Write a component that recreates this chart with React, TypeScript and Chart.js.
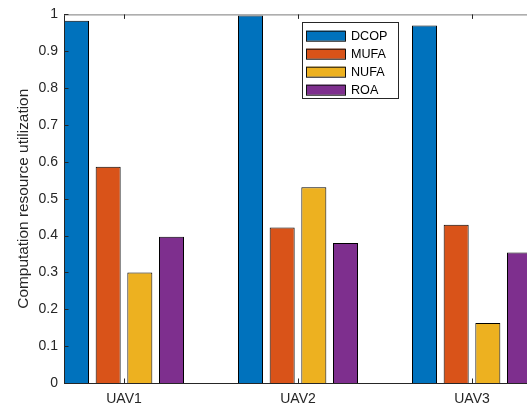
import React, { useEffect, useRef } from 'react';
import { Chart, registerables } from 'chart.js';

Chart.register(...registerables);

const categories = ['UAV1', 'UAV2', 'UAV3'];
const seriesNames = ['DCOP', 'MUFA', 'NUFA', 'ROA'];
const dcopValues = [0.983, 0.997, 0.97];
const mufaValues = [0.587, 0.422, 0.429];
const nufaValues = [0.3, 0.531, 0.163];
const roaValues = [0.397, 0.38, 0.354];
const seriesColors = ['#0072BD', '#D95319', '#EDB120', '#7E2F8E'];
const yTickValues = [0, 0.1, 0.2, 0.3, 0.4, 0.5, 0.6, 0.7, 0.8, 0.9, 1];
const yAxisTitle = 'Computation resource utilization';

const FONT = '"Liberation Sans", Arial, Helvetica, sans-serif';
const AXIS_COLOR = '#262626';

const axesPlugin = {
  id: 'matlabAxes',
  afterDatasetsDraw(chart: any) {
    const { ctx, chartArea: a, scales } = chart;
    const x = scales.x;
    const y = scales.y;
    ctx.save();
    ctx.lineWidth = 1;
    ctx.strokeStyle = AXIS_COLOR;
    ctx.beginPath();
    ctx.moveTo(a.left + 0.5, a.top);
    ctx.lineTo(a.left + 0.5, a.bottom + 0.5);
    ctx.lineTo(a.right + 0.5, a.bottom + 0.5);
    ctx.moveTo(a.right + 0.5, a.top);
    ctx.lineTo(a.right + 0.5, a.bottom + 0.5);
    ctx.stroke();
    ctx.strokeStyle = '#7a7a7a';
    ctx.beginPath();
    ctx.moveTo(a.left, a.top + 0.5);
    ctx.lineTo(a.right + 0.5, a.top + 0.5);
    ctx.stroke();
    ctx.strokeStyle = AXIS_COLOR;
    ctx.beginPath();
    const tl = 4.5;
    yTickValues.forEach((v) => {
      const py = Math.round(y.getPixelForValue(v)) + 0.5;
      ctx.moveTo(a.left, py);
      ctx.lineTo(a.left + tl, py);
      ctx.moveTo(a.right, py);
      ctx.lineTo(a.right - tl, py);
    });
    categories.forEach((_, i) => {
      const px = Math.round(x.getPixelForValue(i + 1)) + 0.5;
      ctx.moveTo(px, a.bottom);
      ctx.lineTo(px, a.bottom - tl);
      ctx.moveTo(px, a.top);
      ctx.lineTo(px, a.top + tl);
    });
    ctx.stroke();
    ctx.restore();
  },
  afterDraw(chart: any) {
    const { ctx } = chart;
    const box = { x: 302, y: 22, w: 96, h: 76 };
    ctx.save();
    ctx.fillStyle = '#ffffff';
    ctx.fillRect(box.x, box.y, box.w, box.h);
    ctx.strokeStyle = AXIS_COLOR;
    ctx.lineWidth = 1;
    ctx.strokeRect(box.x + 0.5, box.y + 0.5, box.w, box.h);
    ctx.font = `12.6px ${FONT}`;
    ctx.textBaseline = 'middle';
    ctx.textAlign = 'left';
    chart.data.datasets.forEach((ds: any, i: number) => {
      const cy = box.y + 13.7 + i * 18;
      ctx.fillStyle = ds.backgroundColor;
      ctx.fillRect(box.x + 4, cy - 5, 39, 10);
      ctx.strokeStyle = '#111';
      ctx.strokeRect(box.x + 4.5, cy - 4.5, 39, 10);
      ctx.fillStyle = '#000';
      ctx.fillText(ds.label, box.x + 49, cy + 0.5);
    });
    ctx.restore();
  },
};

export default function App() {
  const ref = useRef<HTMLCanvasElement | null>(null);

  useEffect(() => {
    if (!ref.current) return;
    const seriesValues = [dcopValues, mufaValues, nufaValues, roaValues];
    const datasets = seriesNames.map((name, s) => ({
      label: name,
      data: categories.map((_, i) => ({ x: i + 1, y: seriesValues[s][i] })),
      backgroundColor: seriesColors[s],
      borderColor: '#000',
      borderWidth: 1,
      borderSkipped: 'start',
      categoryPercentage: 0.728,
      barPercentage: 0.79,
    }));
    const chart = new Chart(ref.current, {
      type: 'bar',
      data: { datasets } as any,
      options: {
        animation: false,
        responsive: false,
        devicePixelRatio: 1,
        layout: { padding: { top: 13, right: 13, bottom: 0, left: 0 } },
        plugins: {
          legend: { display: false },
          tooltip: { enabled: false },
        },
        scales: {
          x: {
            type: 'linear',
            min: 1 - 60 / 174,
            max: 3 + 60 / 174,
            offset: false,
            grid: { display: false, drawTicks: false, offset: false },
            border: { display: false },
            afterBuildTicks: (scale: any) => {
              scale.ticks = categories.map((_, i) => ({ value: i + 1 }));
            },
            afterFit: (scale: any) => {
              scale.height = 24;
            },
            ticks: {
              padding: 8,
              color: AXIS_COLOR,
              font: { family: FONT, size: 14 },
              maxRotation: 0,
              callback: (v: any) => categories[Math.round(v) - 1] ?? '',
            },
          },
          y: {
            min: 0,
            max: 1,
            grid: { display: false, drawTicks: false },
            border: { display: false },
            afterBuildTicks: (scale: any) => {
              scale.ticks = yTickValues.map((v) => ({ value: v }));
            },
            afterFit: (scale: any) => {
              scale.width = 64;
            },
            ticks: {
              padding: 6,
              color: AXIS_COLOR,
              font: { family: FONT, size: 14 },
              callback: (v: any) => String(Math.round(Number(v) * 10) / 10),
            },
            title: {
              display: true,
              text: yAxisTitle,
              color: AXIS_COLOR,
              font: { family: FONT, size: 15.4 },
              padding: { top: 15, bottom: 0 },
            },
          },
        },
      },
      plugins: [axesPlugin],
    });
    return () => chart.destroy();
  }, []);

  return (
    <div
      style={{
        position: 'absolute',
        left: 0,
        top: 0,
        width: 527,
        height: 407,
        overflow: 'hidden',
        background: '#fff',
      }}
    >
      <canvas ref={ref} width={545} height={407} style={{ width: 545, height: 407, display: 'block' }} />
    </div>
  );
}
